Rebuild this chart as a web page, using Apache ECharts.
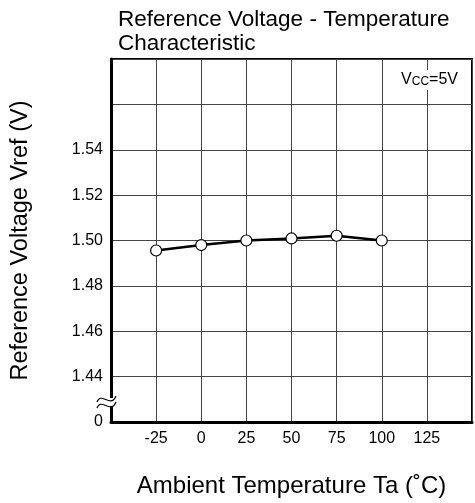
<!DOCTYPE html>
<html>
<head>
<meta charset="utf-8">
<script src="https://cdn.jsdelivr.net/npm/echarts@6/dist/echarts.min.js"></script>
<style>
html,body{margin:0;padding:0;background:#fff;}
#chart{width:475px;height:503px;}
</style>
</head>
<body>
<div id="chart"></div>
<script>
var temperatures = [-25, 0, 25, 50, 75, 100];
var vref = [1.4956, 1.4980, 1.5000, 1.5009, 1.5021, 1.5000];
var xTickValues = [-25, 0, 25, 50, 75, 100, 125];
var yTickLabels = ['0', '1.44', '1.46', '1.48', '1.50', '1.52', '1.54', '', ''];
var titleText = 'Reference Voltage - Temperature\nCharacteristic';
var xName = 'Ambient Temperature Ta (\u02DAC)';
var yName = 'Reference Voltage Vref (V)';

var FONT = '"Liberation Sans", Arial, Helvetica, sans-serif';
var chart = echarts.init(document.getElementById('chart'), null, {renderer: 'canvas'});

var seriesData = temperatures.map(function (t, i) { return [t, vref[i]]; });

chart.setOption({
  backgroundColor: '#fff',
  animation: false,
  title: {
    text: titleText,
    left: 113,
    top: 3,
    textStyle: {fontFamily: FONT, fontSize: 22.5, fontWeight: 'normal', color: '#000', lineHeight: 24}
  },
  grid: {
    left: 111, right: 2, top: 59, bottom: 81,
    show: true, borderColor: '#000', borderWidth: 2, backgroundColor: 'transparent'
  },
  xAxis: {
    type: 'value', min: -50, max: 150, interval: 25,
    name: xName, nameLocation: 'middle', nameGap: 52,
    nameTextStyle: {fontFamily: FONT, fontSize: 24, color: '#000'},
    axisLine: {show: true, onZero: false, lineStyle: {color: '#000', width: 3}},
    axisTick: {show: false},
    axisLabel: {
      fontFamily: FONT, fontSize: 16, color: '#000', margin: 9,
      formatter: function (v) { return xTickValues.indexOf(v) >= 0 ? String(v) : ''; }
    },
    splitLine: {show: true, lineStyle: {color: '#444', width: 1}}
  },
  yAxis: {
    type: 'value', min: 1.42, max: 1.58, interval: 0.02,
    name: yName, nameLocation: 'middle', nameGap: 78, nameRotate: 90,
    nameTextStyle: {fontFamily: FONT, fontSize: 23.5, color: '#000'},
    axisLine: {show: true, onZero: false, lineStyle: {color: '#000', width: 3}},
    axisTick: {show: false},
    axisLabel: {
      fontFamily: FONT, fontSize: 16, color: '#000', margin: 8,
      formatter: function (v) {
        var k = Math.round((v - 1.42) / 0.02);
        return yTickLabels[k] !== undefined ? yTickLabels[k] : '';
      }
    },
    splitLine: {show: true, lineStyle: {color: '#444', width: 1}}
  },
  series: [{
    type: 'line',
    data: seriesData,
    symbol: 'circle',
    symbolSize: 11,
    lineStyle: {color: '#000', width: 2.5},
    itemStyle: {color: '#fff', borderColor: '#000', borderWidth: 1.2},
    z: 5
  }],
  graphic: [
    {
      type: 'text',
      right: 14, top: 70,
      z: 10,
      style: {
        text: 'V{s|CC}=5V',
        rich: {s: {fontSize: 12, fontFamily: FONT, fill: '#000', verticalAlign: 'bottom', padding: [3, 0, 0, 0]}},
        fontFamily: FONT, fontSize: 16, fill: '#000',
        backgroundColor: '#fff', padding: [2, 3, 2, 3]
      }
    },
    {
      type: 'rect', z: 10,
      shape: {x: 108, y: 398, width: 6, height: 8},
      style: {fill: '#fff'}
    },
    {
      type: 'bezierCurve', z: 11,
      shape: {x1: 97, y1: 402, cpx1: 101, cpy1: 391, cpx2: 111, cpy2: 409, x2: 116, y2: 396},
      style: {fill: null, stroke: '#000', lineWidth: 1.2}
    },
    {
      type: 'bezierCurve', z: 11,
      shape: {x1: 97, y1: 408, cpx1: 101, cpy1: 397, cpx2: 111, cpy2: 415, x2: 116, y2: 402},
      style: {fill: null, stroke: '#000', lineWidth: 1.2}
    }
  ]
});
</script>
</body>
</html>
